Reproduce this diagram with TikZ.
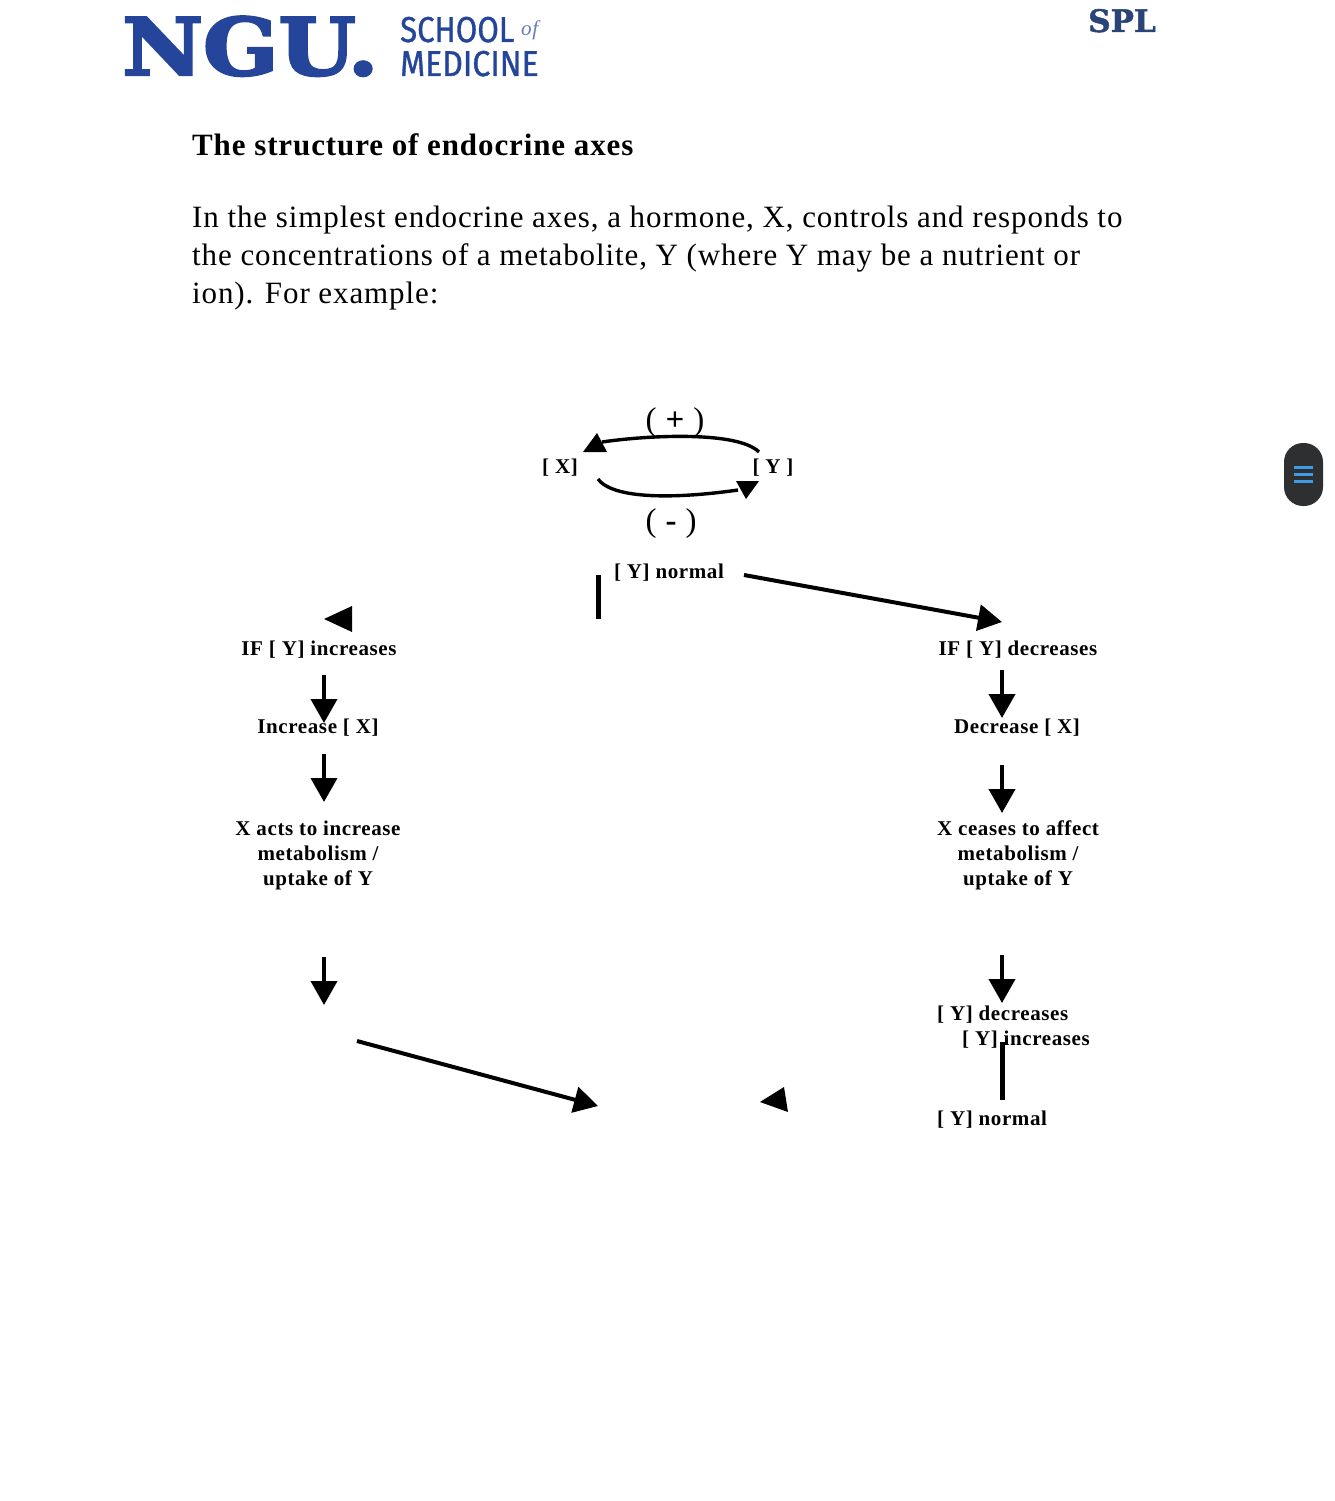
\documentclass[tikz,border=0pt]{standalone}
\usepackage{fontspec}
\usepackage{graphicx}
\setmainfont[LetterSpace=2.9]{Liberation Serif}
\newfontfamily\slabfont[BoldFont={DejaVu Serif Bold},BoldFeatures={FakeBold=3}]{DejaVu Serif}
\newfontfamily\splfont[BoldFont={DejaVu Serif Bold},BoldFeatures={FakeBold=1.5}]{DejaVu Serif}
\newfontfamily\condfont[FakeBold=1]{Fira Sans}
\definecolor{ngublue}{HTML}{24459A}
\definecolor{splblue}{HTML}{2A4478}
\definecolor{pillgray}{HTML}{2E2F31}
\definecolor{pillblue}{HTML}{3D9BE9}
\tikzset{
  x=1pt,y=-1pt,
  lab/.style={font=\fontsize{21}{25}\selectfont\bfseries,inner sep=0pt,anchor=base,align=center},
  labl/.style={lab,anchor=base west},
  body/.style={font=\fontsize{31}{38}\selectfont,inner sep=0pt,anchor=base west},
  sign/.style={font=\fontsize{33}{33}\selectfont,inner sep=0pt,anchor=base},
  bigarrow/.style={line width=4pt,-{Triangle[length=24pt,width=26pt]}},
  loopline/.style={line width=3.4pt},
  barline/.style={line width=5pt},
  tip/.style={fill=black,draw=none},
}
\usetikzlibrary{arrows.meta}
\begin{document}
\begin{tikzpicture}
\useasboundingbox (0,0) rectangle (1334,1501);
\fill[white] (0,0) rectangle (1334,1501);
% header
\node[inner sep=0pt,anchor=base west,text=ngublue] (ngu) at (122,75)
  {\scalebox{1.12}[1]{\slabfont\bfseries\fontsize{79}{79}\selectfont NGU.}};
\node[inner sep=0pt,anchor=base west,text=ngublue] (school) at (400,42)
  {\scalebox{0.865}[1]{\condfont\fontsize{36}{36}\selectfont SCHOOL}};
\node[inner sep=0pt,anchor=base west,text=ngublue!70] (of) at (521,36)
  {\fontsize{21}{21}\selectfont\itshape of};
\node[inner sep=0pt,anchor=base west,text=ngublue] (medicine) at (400,76)
  {\scalebox{0.89}[1]{\condfont\fontsize{36}{36}\selectfont MEDICINE}};
\node[inner sep=0pt,anchor=base,text=splblue] (spl) at (1122,32)
  {\splfont\bfseries\fontsize{31}{31}\selectfont SPL};
% text
\node[body,font=\fontsize{31}{38}\selectfont\bfseries] (title) at (192,155) {The structure of endocrine axes};
\node[body] (l1) at (192,227) {In the simplest endocrine axes, a hormone, X, controls and responds to};
\node[body] (l2) at (192,265) {the concentrations of a metabolite, Y (where Y may be a nutrient or};
\node[body] (l3) at (192,303) {ion). For example:};
% top loop
\node[lab] (x) at (560,473) {[ X]};
\node[lab] (y) at (773,473) {[ Y ]};
\node[sign] (plus) at (675,430) {(\hspace{9pt}{\bfseries +}\hspace{9pt})};
\node[sign] (minus) at (671,531) {(\hspace{9pt}{\bfseries -}\hspace{9pt})};
\coordinate (ya) at (759,452);
\coordinate (xa) at (602,442);
\coordinate (xb) at (598,479);
\coordinate (yb) at (738,490);
\draw[loopline] (ya) .. controls (738,431) and (650,435) .. (xa);
\draw[loopline] (xb) .. controls (615,502) and (690,497) .. (yb);
\fill[tip] (597,433) -- (583,452) -- (607,452) -- cycle;
\fill[tip] (736,481) -- (759,481) -- (746,499) -- cycle;
% centre
\node[lab] (norm) at (669,578) {[ Y] normal};
\coordinate (b1a) at (598.5,575);
\coordinate (b1b) at (598.5,619);
\draw[barline] (b1a) -- (b1b);
\coordinate (ra) at (744,575);
\coordinate (rb) at (1002,622);
\draw[bigarrow] (ra) -- (rb);
\fill[tip] (324,619) -- (352,606) -- (352,632) -- cycle;
% left column
\node[lab] (li) at (319,655) {IF [ Y] increases};
\node[lab] (lx) at (318,733) {Increase [ X]};
\node[lab,anchor=north] (la) at (318,821) {X acts to increase\\metabolism /\\uptake of Y};
\coordinate (la1) at (324,675); \coordinate (la2) at (324,723);
\coordinate (la3) at (324,754); \coordinate (la4) at (324,802);
\coordinate (la5) at (324,957); \coordinate (la6) at (324,1005);
\draw[bigarrow] (la1) -- (la2);
\draw[bigarrow] (la3) -- (la4);
\draw[bigarrow] (la5) -- (la6);
\coordinate (lc1) at (357,1041); \coordinate (lc2) at (598,1106);
\draw[bigarrow] (lc1) -- (lc2);
% right column
\node[lab] (ri) at (1018,655) {IF [ Y] decreases};
\node[lab] (rx) at (1017,733) {Decrease [ X]};
\node[lab,anchor=north] (ra2) at (1018,821) {X ceases to affect\\metabolism /\\uptake of Y};
\coordinate (ra1) at (1002,670); \coordinate (ra3) at (1002,718);
\coordinate (ra4) at (1002,765); \coordinate (ra5) at (1002,813);
\coordinate (ra6) at (1002,955); \coordinate (ra7) at (1002,1003);
\draw[bigarrow] (ra1) -- (ra3);
\draw[bigarrow] (ra4) -- (ra5);
\draw[bigarrow] (ra6) -- (ra7);
\node[labl] (rd) at (937,1020) {[ Y] decreases};
\node[labl] (rinc) at (962,1045) {[ Y] increases};
\node[labl] (rn) at (937,1125) {[ Y] normal};
\coordinate (b2a) at (1002,1042); \coordinate (b2b) at (1002,1100);
\draw[barline] (b2a) -- (b2b);
\fill[tip] (760,1102) -- (784,1087) -- (788,1112) -- cycle;
% side pill
\fill[pillgray,rounded corners=19pt] (1284,443) rectangle (1323,506);
\foreach \yy in {467,474,481}
  \draw[pillblue,line width=3pt] (1294,\yy) -- (1313,\yy);
\end{tikzpicture}
\end{document}
